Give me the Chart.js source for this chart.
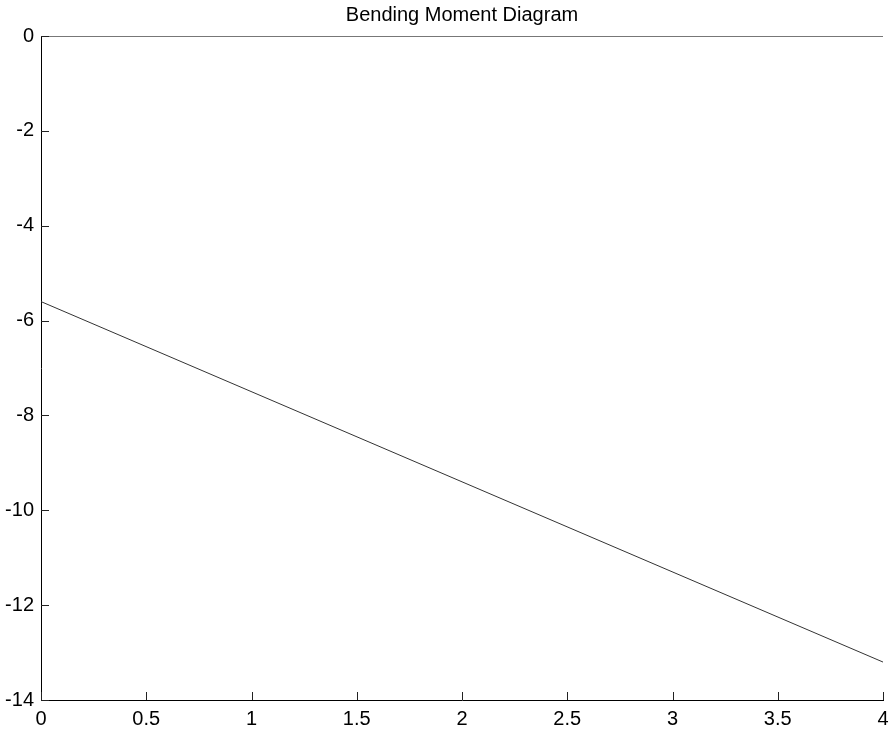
<!DOCTYPE html>
<html>
<head>
<meta charset="utf-8">
<script src="https://cdn.jsdelivr.net/npm/chart.js@4"></script>
<style>
  html, body { margin: 0; padding: 0; background: #fff; }
  #wrap { width: 891px; height: 730px; }
</style>
</head>
<body>
<div id="wrap"><canvas id="bmd"></canvas></div>
<script>
// beam position (m) and bending moment values
const positions = [0, 4];
const moments = [-5.6, -13.2];
const xTicks = [0, 0.5, 1, 1.5, 2, 2.5, 3, 3.5, 4];
const yTicks = [0, -2, -4, -6, -8, -10, -12, -14];
const titleText = 'Bending Moment Diagram';

const fontFamily = '"Liberation Sans", Arial, sans-serif';

// matlab-style title over the axes, inward ticks and top border line
const frameTicks = {
    id: 'frameTicks',
    afterDraw(chart) {
        const ctx = chart.ctx;
        const area = chart.chartArea;
        const xs = chart.scales.x;
        const ys = chart.scales.y;
        ctx.save();
        ctx.fillStyle = '#000';
        ctx.font = '20px ' + fontFamily;
        ctx.textAlign = 'center';
        ctx.textBaseline = 'alphabetic';
        ctx.fillText(titleText, (area.left + area.right) / 2, 21);

        ctx.lineWidth = 1;
        ctx.strokeStyle = '#777';
        ctx.beginPath();
        ctx.moveTo(area.left, area.top + 0.5);
        ctx.lineTo(area.right, area.top + 0.5);
        ctx.stroke();

        ctx.strokeStyle = '#222';
        ctx.beginPath();
        xTicks.forEach(v => {
            const px = Math.round(xs.getPixelForValue(v)) + 0.5;
            ctx.moveTo(px, area.bottom);
            ctx.lineTo(px, area.bottom - 8);
        });
        yTicks.forEach(v => {
            const py = Math.round(ys.getPixelForValue(v)) + 0.5;
            ctx.moveTo(area.left, py);
            ctx.lineTo(area.left + 8, py);
        });
        ctx.stroke();
        ctx.restore();
    }
};

new Chart(document.getElementById('bmd'), {
    type: 'scatter',
    data: {
        datasets: [{
            data: positions.map((x, i) => ({ x: x, y: moments[i] })),
            showLine: true,
            borderColor: '#333',
            borderWidth: 1,
            pointRadius: 0,
            fill: false
        }]
    },
    options: {
        responsive: true,
        maintainAspectRatio: false,
        animation: false,
        layout: { padding: { left: 0, right: 8, top: 36, bottom: 0 } },
        plugins: {
            legend: { display: false },
            tooltip: { enabled: false },
            title: { display: false }
        },
        scales: {
            x: {
                type: 'linear',
                min: 0,
                max: 4,
                afterFit(scale) {
                    scale.height = 30;
                    scale.paddingLeft = 0;
                    scale.paddingRight = 0;
                },
                afterBuildTicks(scale) { scale.ticks = xTicks.map(v => ({ value: v })); },
                grid: { drawOnChartArea: false, drawTicks: false },
                border: { display: true, color: '#000', width: 1 },
                ticks: {
                    color: '#000',
                    padding: 7,
                    maxRotation: 0,
                    autoSkip: false,
                    font: { family: fontFamily, size: 20 },
                    callback: v => String(v)
                }
            },
            y: {
                type: 'linear',
                min: -14,
                max: 0,
                afterFit(scale) {
                    scale.width = 41;
                    scale.paddingTop = 0;
                    scale.paddingBottom = 0;
                },
                afterBuildTicks(scale) { scale.ticks = yTicks.map(v => ({ value: v })); },
                grid: { drawOnChartArea: false, drawTicks: false },
                border: { display: true, color: '#000', width: 1 },
                ticks: {
                    color: '#000',
                    padding: 7,
                    autoSkip: false,
                    font: { family: fontFamily, size: 20 },
                    callback: v => String(v)
                }
            }
        }
    },
    plugins: [frameTicks]
});
</script>
</body>
</html>
